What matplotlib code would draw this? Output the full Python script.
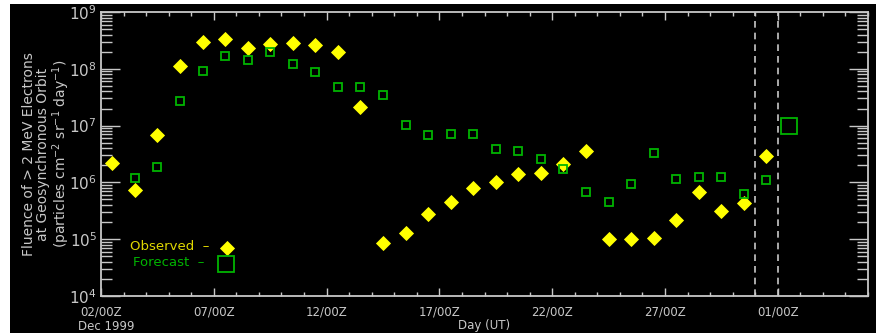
import numpy as np
import matplotlib
matplotlib.use("Agg")
import matplotlib.pyplot as plt
from matplotlib.patches import Rectangle
from matplotlib.lines import Line2D
from matplotlib.ticker import FixedLocator, NullFormatter, LogLocator

# days since 02 Dec 1999 00Z, values are daily fluences
obs_day = np.arange(0, 30) + 0.5
obs_val = [2.2e6, 7.4e5, 6.8e6, 1.13e8, 2.96e8, 3.3e8, 2.3e8, 2.7e8, 2.9e8, 2.6e8,
           2.0e8, 2.1e7, 8.7e4, 1.27e5, 2.8e5, 4.5e5, 7.9e5, 1.0e6, 1.39e6, 1.48e6,
           2.1e6, 3.5e6, 1.0e5, 1.0e5, 1.03e5, 2.15e5, 6.8e5, 3.1e5, 4.3e5, 2.9e6]

fc_day = np.arange(1, 30) + 0.5
fc_val = [1.18e6, 1.89e6, 2.74e7, 9.3e7, 1.7e8, 1.41e8, 1.95e8, 1.2e8, 8.9e7, 4.8e7,
          4.7e7, 3.5e7, 1.01e7, 6.9e6, 7.2e6, 7.2e6, 3.8e6, 3.5e6, 2.6e6, 1.72e6,
          6.7e5, 4.6e5, 9.5e5, 3.3e6, 1.16e6, 1.24e6, 1.23e6, 6.2e5, 1.12e6]

next_day = [30.5]
next_val = [9.8e6]

tick_days = [0, 5, 10, 15, 20, 25, 30]
tick_labels = ["02/00Z", "07/00Z", "12/00Z", "17/00Z", "22/00Z", "27/00Z", "01/00Z"]
now_lines = [29, 30]

FG = "#c8c8c8"
YEL = "#ffff00"
GRN = "#00b400"

W, H = 876, 333
fig = plt.figure(figsize=(W / 100, H / 100), dpi=100, facecolor="white")
fig.patches.append(Rectangle((10 / W, 0), 1 - 10 / W, 1 - 4 / H,
                             transform=fig.transFigure, facecolor="black",
                             edgecolor="none", zorder=-5))

ax = fig.add_axes([101 / W, 37 / H, 767 / W, 284 / H])
ax.set_facecolor("black")
ax.set_yscale("log")
ax.set_xlim(0, 34)
ax.set_ylim(1e4, 1e9)

for x in now_lines:
    ax.axvline(x, color=FG, lw=1.2, ls=(0, (4, 3)))

ax.plot(obs_day, obs_val, ls="none", marker="D", ms=6.8, mfc=YEL, mec=YEL, mew=0.6, zorder=3)
ax.plot(fc_day, fc_val, ls="none", marker="s", ms=5.8, mfc="none", mec=GRN, mew=1.3, zorder=4)
ax.plot(next_day, next_val, ls="none", marker="s", ms=12, mfc="none", mec=GRN, mew=1.3, zorder=4)

for s in ax.spines.values():
    s.set_color(FG)
    s.set_linewidth(1.3)

ax.xaxis.set_major_locator(FixedLocator(tick_days))
ax.xaxis.set_minor_locator(FixedLocator(np.arange(0, 35)))
ax.set_xticklabels(tick_labels)
ax.tick_params(axis="both", which="both", direction="in", colors=FG,
               top=True, right=True, labelsize=8.5)
ax.tick_params(axis="x", which="major", length=6, width=1, pad=7)
ax.tick_params(axis="x", which="minor", length=3, width=1)
ax.tick_params(axis="y", which="major", length=14, width=1, pad=3, labelsize=11)
ax.tick_params(axis="y", which="minor", length=8, width=1)
ax.yaxis.set_major_locator(FixedLocator([1e4, 1e5, 1e6, 1e7, 1e8, 1e9]))
ax.yaxis.set_minor_locator(LogLocator(base=10, subs=np.arange(2, 10)))
ax.yaxis.set_minor_formatter(NullFormatter())
ax.set_yticklabels([r"$10^{%d}$" % e for e in range(4, 10)])

fig.text(47 / W, 1 - 154 / H, "Fluence of > 2 MeV Electrons\nat Geosynchronous Orbit\n"
         r"(particles cm$^{-2}$ sr$^{-1}$ day$^{-1}$)",
         rotation=90, ha="center", va="center", color=FG, fontsize=10,
         linespacing=1.0)

fig.text(78 / W, 1 - 326 / H, "Dec 1999", ha="left", va="center", color=FG, fontsize=8.5)
fig.text(484 / W, 1 - 326 / H, "Day (UT)", ha="center", va="center", color=FG, fontsize=8.5)

# legend
fig.text(130 / W, 1 - 247 / H, "Observed  \u2013", ha="left", va="center", color="#e0d800", fontsize=9.5)
fig.text(133 / W, 1 - 263 / H, "Forecast  \u2013", ha="left", va="center", color=GRN, fontsize=9.5)
fig.lines.append(Line2D([227 / W], [1 - 248 / H], transform=fig.transFigure,
                        ls="none", marker="D", ms=6.8, mfc=YEL, mec=YEL, mew=0.6))
fig.lines.append(Line2D([226 / W], [1 - 264 / H], transform=fig.transFigure,
                        ls="none", marker="s", ms=12, mfc="none", mec=GRN, mew=1.3))

fig.savefig("out.png", dpi=100, facecolor=fig.get_facecolor())
